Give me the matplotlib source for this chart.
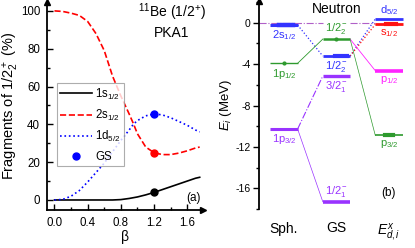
import matplotlib
matplotlib.use('Agg')
import matplotlib.pyplot as plt
from matplotlib.ticker import MultipleLocator

plt.rcParams['font.family'] = ['Liberation Sans', 'DejaVu Sans']
plt.rcParams['mathtext.fontset'] = 'custom'
plt.rcParams['mathtext.rm'] = 'Liberation Sans'
plt.rcParams['mathtext.it'] = 'Liberation Sans:italic'
plt.rcParams['mathtext.bf'] = 'Liberation Sans:bold'

# ---- panel (a): fragments vs beta ----
beta = [0.0, 0.1, 0.2, 0.3, 0.4, 0.5, 0.6, 0.7, 0.8, 0.9, 0.95, 1.0,
        1.1, 1.2, 1.3, 1.4, 1.5, 1.6, 1.7, 1.75]
frag_1s = [0, 0, 0, 0, 0, 0, 0, 0, 0.2, 0.8, 1.2, 1.6,
           2.7, 4.0, 5.5, 7.0, 8.5, 10.0, 11.5, 12.0]
frag_2s = [100, 99.7, 98.8, 97.6, 94.4, 88, 79, 65.5, 55, 45.5, 40.5, 35,
           28, 25, 24, 24, 24.8, 26, 27.5, 28]
frag_1d = [0, 0.3, 2, 5, 9.5, 14.5, 19.5, 25.5, 31.5, 37, 40, 42,
           44.5, 45.5, 45, 43.5, 41.5, 39.5, 37, 36]
gs_beta = 1.2
gs_vals = [4, 25, 45.5]
gs_cols = ['black', 'red', 'blue']

# ---- panel (b): levels ----
columns = ['Sph.', 'GS', '$E^{x}_{d,i}$']
sph_E = [-0.22, -3.92, -10.27]
sph_lab = ['2s$_{1/2}$', '1p$_{1/2}$', '1p$_{3/2}$']
gs_E = [-1.58, -3.22, -5.15, -17.3]
gs_lab = ['1/2$_2^-$', '1/2$_2^-$', '3/2$_1^-$', '1/2$_1^-$']
ex_E = [0.36, -0.16, -4.63, -10.88]
ex_lab = ['d$_{5/2}$', 's$_{1/2}$', 'p$_{1/2}$', 'p$_{3/2}$']

c_blue = '#3333ff'
c_green = '#2e9a2e'
c_purple = '#9933ff'
c_mag = '#ff22ff'
c_red = '#ff1111'
c_thr = '#b060c8'

fig = plt.figure(figsize=(4.15, 2.48), dpi=100)

ax = fig.add_axes([47/415, 38/248, 156/415, 208/248])
ax.plot(beta, frag_1s, '-', color='black', lw=1.2, label='1s$_{1/2}$')
ax.plot(beta, frag_2s, '--', color='red', lw=1.2, label='2s$_{1/2}$')
ax.plot(beta, frag_1d, ':', color='blue', lw=1.2, label='1d$_{5/2}$')
for v, c in zip(gs_vals, gs_cols):
    ax.plot(gs_beta, v, 'o', color=c, ms=5)
ax.plot([], [], 'o', color='blue', ms=5, label='GS')
ax.set_xlim(-0.09, 1.79)
ax.set_ylim(-5.3, 104.7)
ax.xaxis.set_minor_locator(MultipleLocator(0.2))
ax.yaxis.set_minor_locator(MultipleLocator(10))
ax.set_yticks([0, 20, 40, 60, 80, 100])
ax.set_xticks([0.0, 0.4, 0.8, 1.2, 1.6])
ax.set_xticklabels(['0.0', '0.4', '0.8', '1.2', '1.6'])
ax.tick_params(which='both', direction='in', labelsize=8.3, width=1)
ax.tick_params(which='major', length=4, pad=5)
ax.tick_params(which='minor', length=2.5)
for s in ['top', 'right']:
    ax.spines[s].set_visible(False)
for s in ['left', 'bottom']:
    ax.spines[s].set_linewidth(1.3)
ax.plot(1, 0, '>k', transform=ax.transAxes, clip_on=False, ms=5)
ax.plot(0, 1, '^k', transform=ax.transAxes, clip_on=False, ms=5)
ax.set_xlabel('β', fontsize=10, labelpad=1)
ax.set_ylabel('Fragments of 1/2$_2^+$ (%)', fontsize=10.5, labelpad=-0.5)
ax.text(0.80, 0.95, '$^{11}$Be (1/2$^{+}$)', transform=ax.transAxes,
        ha='center', va='center', fontsize=10)
ax.text(0.80, 0.85, 'PKA1', transform=ax.transAxes,
        ha='center', va='center', fontsize=10)
ax.text(0.94, 0.06, '(a)', transform=ax.transAxes, ha='center', va='center',
        fontsize=8.5)
leg = ax.legend(loc='upper left', bbox_to_anchor=(57/415, 1 - 83/248),
                bbox_transform=fig.transFigure, fontsize=8.3, frameon=True,
                fancybox=False, edgecolor='#999999', handlelength=2.7,
                handletextpad=0.3, labelspacing=0.55, borderpad=0.3,
                borderaxespad=0)
leg.get_frame().set_linewidth(0.8)

# ---- panel (b) ----
bx = fig.add_axes([259/415, 39/248, 153/415, 208/248])
bx.set_xlim(-0.476, 2.44)
bx.set_ylim(-18, 2.1)
hw = 0.26


def level(x, e, color, lw):
    bx.plot([x - hw, x + hw], [e, e], '-', color=color, lw=lw,
            solid_capstyle='butt')


def link(x0, e0, x1, e1, color, ls, lw=0.7):
    bx.plot([x0 + hw, x1 - hw], [e0, e1], ls, color=color, lw=lw)


# threshold line
bx.plot([-0.476, 1 - hw], [0, 0], '-.', color=c_thr, lw=0.8)
bx.plot([1 + hw, 2 - hw], [0, 0], '-.', color=c_thr, lw=0.8)

# connections
link(0, sph_E[0], 1, gs_E[1], c_blue, ':', 0.9)
link(0, sph_E[1], 1, gs_E[0], c_green, '-', 0.6)
link(0, sph_E[2], 1, gs_E[2], c_purple, '-.', 0.8)
link(0, sph_E[2], 1, gs_E[3], c_purple, '-', 0.5)
link(1, gs_E[1], 2, ex_E[0], c_blue, ':', 0.9)
link(1, gs_E[1], 2, ex_E[1], c_red, ':', 0.9)
link(1, gs_E[0], 2, ex_E[3], c_green, '-', 0.5)
link(1, gs_E[0], 2, ex_E[2], c_mag, '-', 0.6)

# level bars
level(0, sph_E[0], c_blue, 2.2)
level(0, sph_E[1], c_green, 1.0)
level(0, sph_E[2], c_purple, 2.2)
level(1, gs_E[0], c_green, 1.8)
level(1, gs_E[1], c_blue, 2.0)
level(1, gs_E[2], c_purple, 2.4)
level(1, gs_E[3], c_purple, 2.6)
level(2, ex_E[0], c_blue, 2.0)
level(2, ex_E[1], c_red, 2.0)
level(2, ex_E[2], c_mag, 2.6)
level(2, ex_E[3], c_green, 1.2)
# small markers on bars
bx.plot(0, sph_E[1], 'o', color=c_green, ms=2)
bx.plot(1, gs_E[0], 'o', color=c_green, ms=2)
bx.plot([-0.1, 0.18], [sph_E[0]] * 2, '-', color=c_blue, lw=3.2)
bx.plot([0.97, 1.2], [gs_E[1]] * 2, '-', color=c_blue, lw=3.0)
bx.plot([1.95, 2.13], [ex_E[1]] * 2, '-', color=c_red, lw=3.0)
bx.plot([1.92, 2.08], [ex_E[3]] * 2, '-', color=c_green, lw=3.0)

# level labels
lfs = 8
bx.text(0, sph_E[0] - 0.3, sph_lab[0], color=c_blue, ha='center', va='top', fontsize=lfs)
bx.text(0, sph_E[1] - 0.4, sph_lab[1], color=c_green, ha='center', va='top', fontsize=lfs)
bx.text(0, sph_E[2] - 0.3, sph_lab[2], color=c_purple, ha='center', va='top', fontsize=lfs)
bx.text(1, gs_E[0] + 0.3, gs_lab[0], color=c_green, ha='center', va='bottom', fontsize=lfs)
bx.text(1, gs_E[1] - 0.3, gs_lab[1], color=c_blue, ha='center', va='top', fontsize=lfs)
bx.text(1, gs_E[2] - 0.3, gs_lab[2], color=c_purple, ha='center', va='top', fontsize=lfs)
bx.text(1, gs_E[3] + 0.3, gs_lab[3], color=c_purple, ha='center', va='bottom', fontsize=lfs)
bx.text(2, ex_E[0] + 0.2, ex_lab[0], color=c_blue, ha='center', va='bottom', fontsize=lfs)
bx.text(2, ex_E[1] - 0.3, ex_lab[1], color=c_red, ha='center', va='top', fontsize=lfs)
bx.text(2, ex_E[2] - 0.3, ex_lab[2], color=c_mag, ha='center', va='top', fontsize=lfs)
bx.text(2, ex_E[3] - 0.3, ex_lab[3], color=c_green, ha='center', va='top', fontsize=lfs)

bx.text(1, 1.3, 'Neutron', ha='center', va='center', fontsize=10)
bx.text(2.0, -16.5, '(b)', ha='center', va='center', fontsize=8.5)

bx.set_xticks([0, 1, 2])
bx.set_xticklabels(columns, fontsize=10)
bx.tick_params(axis='x', length=0, pad=9)
bx.set_yticks([-16, -12, -8, -4, 0])
bx.set_yticklabels(['-16', '-12', '-8', '-4', '0'])
bx.yaxis.set_minor_locator(MultipleLocator(2))
bx.tick_params(axis='y', which='both', direction='out', labelsize=7.5, width=1)
bx.tick_params(axis='y', which='major', length=4, pad=2)
bx.tick_params(axis='y', which='minor', length=2.5)
for s in ['top', 'right', 'bottom']:
    bx.spines[s].set_visible(False)
bx.spines['left'].set_linewidth(1.3)
bx.spines['left'].set_bounds(-18, 2.1)
bx.plot(0, 1, '^k', transform=bx.transAxes, clip_on=False, ms=5)
bx.set_ylabel('$E_i$ (MeV)', fontsize=9.5, labelpad=1)

fig.savefig('out.png', dpi=100)
